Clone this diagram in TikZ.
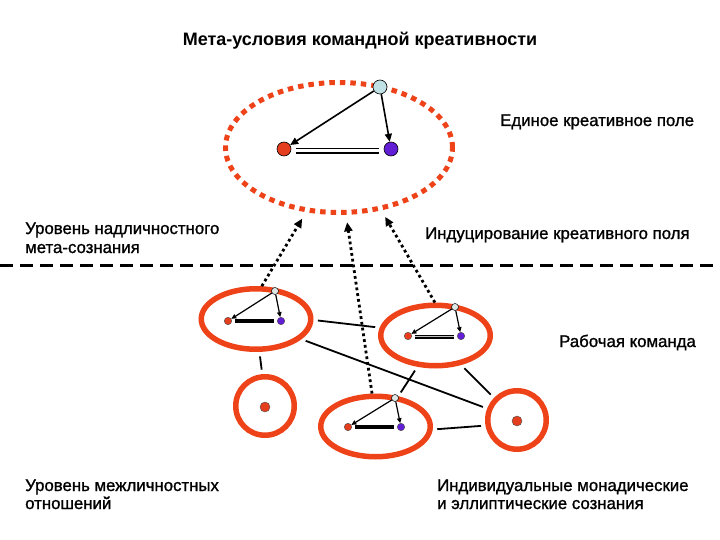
\documentclass[tikz,border=0pt]{standalone}
\usepackage{fontspec}
\setmainfont{Liberation Sans}
\newfontfamily\lblfont[FakeBold=1.2]{Liberation Sans}
\usetikzlibrary{arrows.meta,shapes.geometric}
\definecolor{ored}{RGB}{238,66,24}
\definecolor{nred}{RGB}{228,62,30}
\definecolor{npurp}{RGB}{98,30,212}
\definecolor{ncyan}{RGB}{192,226,230}
\definecolor{ngrey}{RGB}{222,230,230}
\begin{document}
\begin{tikzpicture}[x=1pt,y=-1pt,
  lbl/.style={anchor=base west, inner sep=0pt, font=\lblfont\fontsize{16.8}{19}\selectfont},
  ttl/.style={anchor=base, inner sep=0pt, font=\fontsize{18}{21}\selectfont\bfseries},
  redell/.style={ellipse, draw=ored, line width=5.5pt, inner sep=0pt, minimum width=109.5pt, minimum height=60.5pt},
  redcirc/.style={circle, draw=ored, line width=5.5pt, inner sep=0pt, minimum size=58.5pt},
  bigell/.style={ellipse, draw=ored, line width=5pt, dash pattern=on 5.5pt off 5pt, inner sep=0pt, minimum width=227pt, minimum height=130pt},
  bcyan/.style={circle, draw=black, line width=0.6pt, fill=ncyan, inner sep=0pt, minimum size=14pt},
  bred/.style={circle, draw=black, line width=0.6pt, fill=nred, inner sep=0pt, minimum size=14pt},
  bpurp/.style={circle, draw=black, line width=0.6pt, fill=npurp, inner sep=0pt, minimum size=14pt},
  sgrey/.style={circle, draw=black, line width=0.5pt, fill=ngrey, inner sep=0pt, minimum size=7pt},
  sred/.style={circle, draw=black!70, line width=0.4pt, fill=nred, inner sep=0pt, minimum size=7.5pt},
  spurp/.style={circle, draw=black!70, line width=0.4pt, fill=npurp, inner sep=0pt, minimum size=7.5pt},
  dotred/.style={circle, draw=black!70, line width=0.4pt, fill=nred, inner sep=0pt, minimum size=10pt},
  barrow/.style={line width=1.6pt, -{Triangle[length=8pt,width=7pt]}},
  sarrow/.style={line width=1.2pt, -{Triangle[length=5pt,width=4.5pt]}},
  sbar/.style={line width=4pt, draw=black},
  dbar/.style={draw=black, double=black!25, double distance=1.4pt, line width=1.3pt},
  bigdbar/.style={draw=black, double=white, double distance=3pt, line width=1.6pt},
  conn/.style={line width=1.8pt, shorten <=4.5pt, shorten >=4.5pt},
  dotarrow/.style={line width=2.8pt, dash pattern=on 2.8pt off 3pt, -{Triangle[length=9pt,width=8pt]}, shorten >=7.5pt},
  level/.style={line width=3pt, dash pattern=on 13pt off 7pt}
]
\useasboundingbox (0,0) rectangle (720,540);

% title
\node[ttl] (title) at (360,46) {Мета-условия командной креативности};

% big dotted ellipse with triad
\node[bigell] (big) at (339,147.5) {};
\node[bcyan] (tc) at (380,87) {};
\node[bred] (br) at (284,149) {};
\node[bpurp] (bp) at (391,149) {};
\draw[barrow] (tc) -- (br);
\draw[barrow] (tc) -- (bp);
\path (br.east) ++(5,2) coordinate (bl1) (bp.west) ++(-5,2) coordinate (bl2);
\draw[bigdbar] (bl1) -- (bl2);

% labels
\node[lbl] (l1) at (500,126) {Единое креативное поле};
\node[lbl] (l2a) at (25,234) {Уровень надличностного};
\node[lbl] (l2b) at (25,253) {мета-сознания};
\node[lbl] (l3) at (425,239) {Индуцирование креативного поля};
\node[lbl] (l4) at (559,347) {Рабочая команда};
\node[lbl] (l5a) at (25,491) {Уровень межличностных};
\node[lbl] (l5b) at (25,509) {отношений};
\node[lbl] (l6a) at (437,491) {Индивидуальные монадические};
\node[lbl] (l6b) at (437,509) {и эллиптические сознания};

% dashed level line
\coordinate (dl) at (0,265);
\coordinate (dr) at (718,265);
\draw[level] (dl) -- (dr);

% working team
\node[redell] (e1) at (256,319) {};
\node[redell] (e2) at (435.5,335.5) {};
\node[redell] (e3) at (375.5,426.5) {};
\node[redcirc] (c4) at (265,406) {};
\node[redcirc] (c5) at (517,420) {};
\node[dotred] (d4) at (265,407) {};
\node[dotred] (d5) at (517,421) {};

% triads inside ellipses
\node[sgrey] (e1t) at (275,291) {};
\node[sred] (e1r) at (228,321) {};
\node[spurp] (e1p) at (281,321) {};
\draw[sarrow] (e1t) -- (e1r);
\draw[sarrow] (e1t) -- (e1p);
\draw[sbar] ([xshift=3pt]e1r.east) -- ([xshift=-3pt]e1p.west);

\node[sgrey] (e2t) at (455,307) {};
\node[sred] (e2r) at (408,336) {};
\node[spurp] (e2p) at (461,336) {};
\draw[sarrow] (e2t) -- (e2r);
\draw[sarrow] (e2t) -- (e2p);
\draw[dbar] ([xshift=3pt,yshift=-0.5pt]e2r.east) -- ([xshift=-3pt,yshift=-0.5pt]e2p.west);

\node[sgrey] (e3t) at (395,398) {};
\node[sred] (e3r) at (348,427) {};
\node[spurp] (e3p) at (401,427) {};
\draw[sarrow] (e3t) -- (e3r);
\draw[sarrow] (e3t) -- (e3p);
\draw[sbar] ([xshift=3pt]e3r.east) -- ([xshift=-3pt]e3p.west);

% connectors
\draw[conn] (e1.-1) -- (e2.172);
\draw[conn] (e1.-24) -- (c5.159);
\draw[conn] (e1.-84) -- (c4.95);
\draw[conn] (e2.-120) -- (e3.53);
\draw[conn] (e2.-49) -- (c5.136);
\draw[conn] (e3.-3) -- (c5.190);

% dotted induction arrows
\draw[dotarrow] (e1.80) -- (big.-117);
\draw[dotarrow] (e3.96) -- (big.-84);
\draw[dotarrow] (e2.91) -- (big.-56);
\end{tikzpicture}
\end{document}
